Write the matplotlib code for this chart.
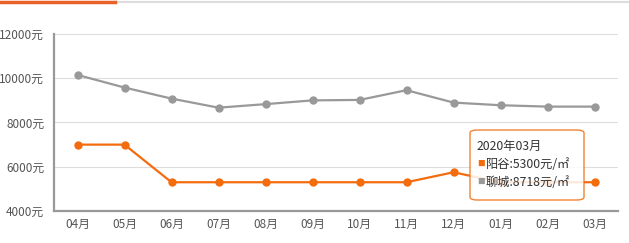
import matplotlib.pyplot as plt
from matplotlib.patches import FancyBboxPatch

plt.rcParams['font.family'] = ['Noto Sans CJK SC', 'DejaVu Sans']

months = ['04月', '05月', '06月', '07月', '08月', '09月', '10月', '11月', '12月', '01月', '02月', '03月']
yanggu = [7000, 7000, 5300, 5300, 5300, 5300, 5300, 5300, 5750, 5300, 5300, 5300]
liaocheng = [10150, 9580, 9080, 8670, 8830, 9000, 9020, 9460, 8900, 8780, 8718, 8718]
yticks = [4000, 6000, 8000, 10000, 12000]

orange = '#f36c0e'
gray = '#999999'

W, H = 629, 243
fig = plt.figure(figsize=(W / 100, H / 100), dpi=100)
ax = fig.add_axes([54 / W, 32 / H, 564 / W, 177 / H])

x = list(range(len(months)))
ax.plot(x, liaocheng, color=gray, lw=1.6, marker='o', ms=5, zorder=3)
ax.plot(x, yanggu, color=orange, lw=1.6, marker='o', ms=5, zorder=3)

ax.set_xlim(-0.5, len(months) - 0.5)
ax.set_ylim(4000, 12000)
ax.set_xticks(x)
ax.set_xticklabels(months)
ax.set_yticks(yticks)
ax.set_yticklabels([f'{v}元' for v in yticks])
ax.tick_params(length=0, labelsize=8.5, labelcolor='#555555')
ax.tick_params(axis='x', pad=5)
ax.tick_params(axis='y', pad=7)
ax.grid(axis='y', color='#dddddd', lw=0.8)
ax.set_axisbelow(True)
for s in ['top', 'right']:
    ax.spines[s].set_visible(False)
for s in ['left', 'bottom']:
    ax.spines[s].set_color('#999999')
    ax.spines[s].set_linewidth(1.6)

# top tab bar
fig.add_artist(plt.Line2D([115 / W, 1], [1 - 2 / H, 1 - 2 / H], color='#dddddd', lw=1.5))
fig.add_artist(plt.Line2D([0, 115 / W], [1 - 2 / H, 1 - 2 / H], color='#e8622a', lw=2.5))

# tooltip
bx0, by0, bw, bh = 470, 130, 114, 70
box = FancyBboxPatch((bx0 / W, 1 - (by0 + bh) / H), bw / W, bh / H,
                     boxstyle='round,pad=0,rounding_size=0.012',
                     transform=fig.transFigure, facecolor='white', alpha=0.85,
                     edgecolor=orange, lw=1.0, zorder=10)
fig.add_artist(box)
tx = 477
fs = 8.8
fig.text(tx / W, 1 - 146 / H, '2020年03月', fontsize=fs, color='#333333', va='center', zorder=11)
fig.text(tx / W, 1 - 164 / H, '■', fontsize=5.5, color=orange, va='center', zorder=11)
fig.text((tx + 9) / W, 1 - 164 / H, f'阳谷:{yanggu[-1]}元/㎡', fontsize=fs, color='#333333', va='center', zorder=11)
fig.text(tx / W, 1 - 182 / H, '■', fontsize=5.5, color=gray, va='center', zorder=11)
fig.text((tx + 9) / W, 1 - 182 / H, f'聊城:{liaocheng[-1]}元/㎡', fontsize=fs, color='#333333', va='center', zorder=11)

fig.savefig('out.png', dpi=100)
